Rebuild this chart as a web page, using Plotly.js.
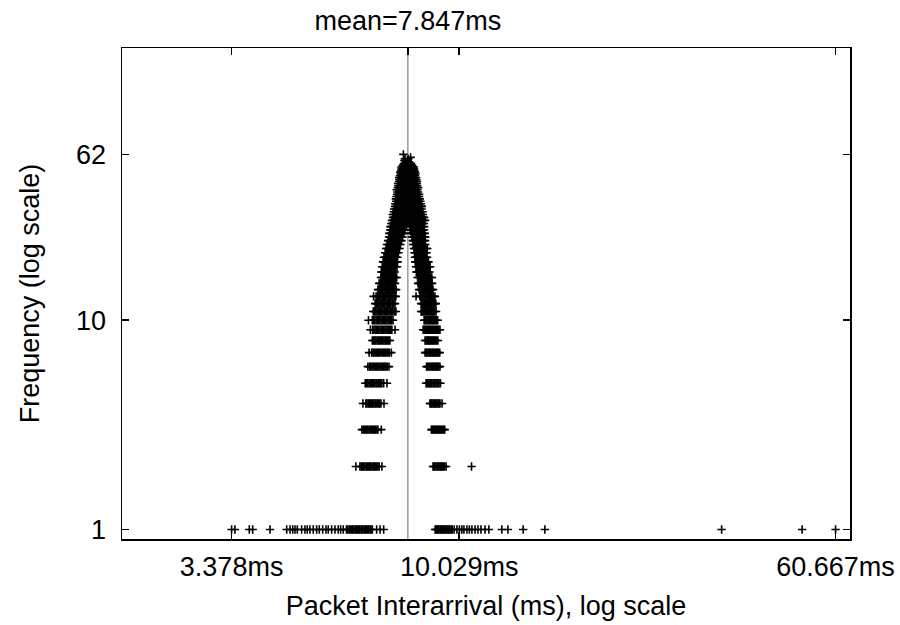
<!DOCTYPE html>
<html>
<head>
<meta charset="utf-8">
<script src="https://cdn.plot.ly/plotly-3.0.1.min.js"></script>
<style>html,body{margin:0;padding:0;background:#fff;}#chart{width:900px;height:625px;}</style>
</head>
<body>
<div id="chart"></div>
<script>
// Packet interarrival histogram: each frequency level lists the interarrival values (ms) seen that many times
const meanMs = 7.847;
const xTickValues = [3.378, 10.029, 60.667];
const xTickLabels = ['3.378ms', '10.029ms', '60.667ms'];
const yTickValues = [1, 10, 62];
const yTickLabels = ['1', '10', '62'];

const frequencyLevels = [1,2,3,4,5,6,7,8,9,10,11,12,13,14,15,16,17,18,19,20,
  21,22,23,24,25,26,27,28,29,30,31,32,33,34,35,36,37,38,39,40,
  41,42,43,44,45,46,47,48,49,50,51,52,53,54,55,56,57,58,59,60,62];

const interarrivalMs = [
  // 1
  [3.378,3.432,3.676,3.736,4.059,4.396,4.466,4.524,4.574,4.625,4.722,4.797,4.850,4.913,4.991,5.073,5.137,5.221,5.305,5.363,5.450,5.537,5.625,5.690,5.761,
   5.85,5.89,5.93,5.96,6.00,6.03,6.06,6.10,6.13,6.16,6.20,6.23,6.27,6.30,6.33,6.37,6.40,6.44,6.47,6.51,6.55,6.58,6.62,6.76,6.87,6.99,
   8.94,8.98,9.02,9.06,9.10,9.15,9.19,9.23,9.28,9.32,9.37,9.41,9.46,9.51,9.55,9.60,9.65,9.70,9.79,9.92,10.04,10.16,10.26,10.41,10.53,10.66,10.82,10.97,11.13,11.35,11.56,12.30,12.66,13.62,15.11,35.18,51.70,60.667],
  // 2
  [6.12,6.24,6.28,6.31,6.35,6.39,6.43,6.46,6.50,6.54,6.57,6.61,6.65,6.68,6.72,6.76,6.80,6.84,6.93,
   8.85,8.89,8.93,8.98,9.02,9.07,9.11,9.16,9.20,9.25,9.30,9.35,9.42,10.64],
  // 3
  [6.30,6.34,6.37,6.41,6.45,6.48,6.52,6.55,6.59,6.62,6.66,6.70,6.73,6.77,6.80,6.91,
   8.78,8.82,8.86,8.90,8.95,8.99,9.03,9.08,9.12,9.16,9.21,9.26,9.31,9.36],
  // 4
  [6.33,6.42,6.45,6.49,6.53,6.56,6.60,6.63,6.67,6.71,6.74,6.78,6.82,6.86,6.90,7.00,
   8.72,8.76,8.80,8.85,8.89,8.93,8.97,9.02,9.06,9.11,9.15,9.24],
  // 5
  [6.40,6.44,6.48,6.52,6.55,6.59,6.62,6.66,6.70,6.74,6.77,6.81,6.85,6.89,6.93,6.99,7.10,
   8.56,8.60,8.64,8.68,8.72,8.76,8.80,8.85,8.89,8.93,8.98,9.02,9.06,9.11,9.17],
  // 6
  [6.48,6.53,6.57,6.61,6.64,6.68,6.72,6.76,6.80,6.83,6.87,6.91,6.95,6.99,7.03,7.07,7.11,7.17,
   8.58,8.62,8.66,8.71,8.75,8.79,8.84,8.88,8.92,8.97,9.01,9.05,9.10,9.15],
  // 7
  [6.52,6.60,6.64,6.67,6.71,6.75,6.79,6.82,6.86,6.90,6.94,6.98,7.02,7.06,7.10,7.14,7.18,7.25,
   8.52,8.56,8.60,8.64,8.69,8.73,8.77,8.82,8.86,8.90,8.95,8.99,9.04,9.08,9.14],
  // 8
  [6.62,6.66,6.69,6.73,6.77,6.81,6.84,6.88,6.92,6.96,7.00,7.04,7.08,7.12,7.16,7.20,
   8.52,8.56,8.61,8.65,8.69,8.73,8.78,8.82,8.86,8.91,8.95,9.00,9.06],
  // 9
  [6.56,6.63,6.67,6.71,6.75,6.79,6.83,6.87,6.91,6.95,6.99,7.03,7.07,7.11,7.15,7.19,7.23,7.27,7.38,
   8.44,8.48,8.52,8.57,8.61,8.65,8.70,8.74,8.78,8.83,8.87,8.92,8.96,9.01,9.05,9.10,9.15],
  // 10
  [6.50,6.62,6.66,6.70,6.74,6.78,6.82,6.86,6.90,6.94,6.98,7.02,7.06,7.10,7.14,7.18,7.22,7.26,7.31,
   8.48,8.52,8.56,8.60,8.65,8.69,8.73,8.78,8.82,8.86,8.91,8.95,9.00,9.05],
  // 11
  [6.65,6.69,6.73,6.77,6.81,6.85,6.89,6.93,6.97,7.01,7.05,7.09,7.13,7.17,7.21,7.25,7.30,7.35,7.41,
   8.36,8.40,8.44,8.48,8.53,8.57,8.61,8.65,8.70,8.74,8.78,8.83,8.87,8.92,8.98],
  // 12
  [6.71,6.75,6.79,6.83,6.87,6.91,6.95,6.99,7.03,7.07,7.11,7.15,7.19,7.23,7.28,7.33,7.38,
   8.36,8.40,8.45,8.49,8.53,8.58,8.62,8.66,8.71,8.75,8.79,8.84,8.88,8.93,8.97],
  // 13
  [6.66,6.74,6.78,6.82,6.86,6.90,6.94,6.98,7.02,7.06,7.10,7.14,7.18,7.22,7.27,7.31,7.36,7.41,
   8.16,8.31,8.35,8.39,8.43,8.47,8.52,8.56,8.60,8.65,8.69,8.73,8.78,8.82,8.87,8.93],
  // 14
  [6.80,6.84,6.88,6.92,6.96,7.00,7.04,7.08,7.12,7.16,7.20,7.24,7.28,7.33,7.37,7.42,
   8.28,8.32,8.36,8.40,8.44,8.49,8.53,8.57,8.62,8.66,8.70,8.75,8.80,8.85],
  // 15
  [6.84,6.88,6.92,6.96,7.00,7.04,7.08,7.12,7.16,7.20,7.24,7.29,7.33,7.38,
   8.24,8.28,8.32,8.36,8.41,8.45,8.49,8.54,8.58,8.62,8.67,8.71,8.76,8.81],
  // 16
  [6.90,6.94,6.98,7.02,7.06,7.10,7.14,7.18,7.22,7.26,7.30,7.35,7.40,7.44,
   8.22,8.26,8.31,8.35,8.39,8.43,8.48,8.52,8.56,8.61,8.65,8.70,8.75,8.80],
  // 17
  [6.91,6.95,6.99,7.03,7.07,7.11,7.15,7.19,7.24,7.28,7.32,7.37,
   8.17,8.21,8.25,8.29,8.33,8.38,8.42,8.46,8.51,8.55,8.60,8.64,8.70],
  // 18
  [6.94,6.98,7.02,7.06,7.10,7.14,7.18,7.22,7.27,7.31,7.35,7.40,7.45,
   8.16,8.20,8.24,8.28,8.33,8.37,8.41,8.46,8.50,8.54,8.59,8.63,8.68,8.73],
  // 19
  [6.97,7.01,7.05,7.09,7.13,7.17,7.21,7.25,7.30,7.34,7.38,7.43,7.47,
   8.13,8.17,8.21,8.25,8.30,8.34,8.38,8.43,8.47,8.51,8.56,8.60,8.66],
  // 20
  [7.00,7.04,7.08,7.12,7.16,7.20,7.24,7.28,7.33,7.37,7.41,7.46,
   8.12,8.16,8.20,8.24,8.29,8.33,8.37,8.42,8.46,8.50,8.55,8.60],
  // 21
  [7.04,7.08,7.12,7.16,7.20,7.24,7.28,7.32,7.37,7.41,7.45,7.50,
   8.10,8.14,8.18,8.22,8.27,8.31,8.35,8.40,8.44,8.48,8.53,8.58],
  // 22
  [7.07,7.11,7.15,7.19,7.23,7.27,7.31,7.36,7.40,7.44,7.49,7.54,
   8.08,8.12,8.16,8.20,8.25,8.29,8.33,8.38,8.42,8.46,8.51,8.56,8.61],
  // 23
  [7.10,7.14,7.18,7.22,7.26,7.30,7.35,7.39,7.43,7.48,7.52,7.57,
   8.05,8.09,8.13,8.17,8.22,8.26,8.30,8.35,8.39,8.43,8.48,8.53],
  // 24
  [7.14,7.18,7.22,7.26,7.30,7.34,7.39,7.43,7.47,7.52,7.56,7.61,
   8.04,8.08,8.12,8.16,8.21,8.25,8.29,8.34,8.38,8.42,8.47,8.52],
  // 25
  [7.17,7.21,7.25,7.29,7.33,7.38,7.42,7.46,7.51,7.55,7.60,7.65,
   8.00,8.04,8.08,8.13,8.17,8.21,8.26,8.30,8.34,8.39,8.43,8.48,8.53],
  // 26
  [7.18,7.22,7.26,7.30,7.35,7.39,7.43,7.48,7.52,7.57,7.61,7.66,7.70,
   7.97,8.01,8.05,8.10,8.14,8.18,8.23,8.27,8.31,8.36,8.40,8.45,8.51],
  // 27
  [7.21,7.25,7.29,7.33,7.38,7.42,7.46,7.51,7.55,7.60,7.64,7.69,7.74,
   7.93,7.97,8.01,8.06,8.10,8.14,8.19,8.23,8.28,8.32,8.37,8.42,8.48],
  // 28
  [7.22,7.26,7.30,7.35,7.39,7.43,7.48,7.52,7.56,7.61,7.65,7.70,7.74,7.78,
   7.94,7.98,8.02,8.07,8.11,8.15,8.20,8.24,8.29,8.33,8.38,8.43,8.48],
  // 29
  [7.25,7.29,7.33,7.38,7.42,7.46,7.51,7.55,7.60,7.64,7.69,7.73,7.78,7.82,7.87,7.91,7.96,8.00,8.05,8.09,8.14,8.18,8.23,8.28,8.32,8.37,8.42,8.47],
  // 30
  [7.27,7.33,7.38,7.43,7.49,7.54,7.60,7.65,7.71,7.76,7.82,7.87,7.93,7.99,8.04,8.10,8.16,8.22,8.28,8.34,8.40,8.46,8.52],
  // 31
  [7.31,7.36,7.41,7.47,7.52,7.58,7.63,7.69,7.74,7.80,7.85,7.91,7.96,8.02,8.08,8.13,8.19,8.25,8.31,8.37,8.43,8.48],
  // 32
  [7.30,7.35,7.40,7.46,7.51,7.57,7.62,7.68,7.73,7.79,7.84,7.90,7.95,8.01,8.06,8.12,8.18,8.24,8.30,8.36,8.43],
  // 33
  [7.34,7.39,7.45,7.50,7.56,7.61,7.67,7.72,7.78,7.83,7.89,7.94,8.00,8.05,8.11,8.17,8.23,8.29,8.35,8.42],
  // 34
  [7.35,7.41,7.46,7.52,7.57,7.63,7.68,7.74,7.79,7.85,7.90,7.96,8.01,8.07,8.13,8.19,8.25,8.31,8.38],
  // 35
  [7.38,7.43,7.49,7.54,7.60,7.65,7.71,7.76,7.82,7.87,7.93,7.98,8.04,8.10,8.16,8.22,8.28,8.35,8.39],
  // 36
  [7.39,7.45,7.50,7.56,7.61,7.67,7.72,7.78,7.83,7.89,7.94,8.00,8.05,8.11,8.17,8.23,8.29,8.35],
  // 37
  [7.42,7.47,7.53,7.58,7.64,7.69,7.75,7.80,7.86,7.91,7.97,8.02,8.08,8.14,8.20,8.26,8.33],
  // 38
  [7.41,7.46,7.52,7.57,7.63,7.68,7.74,7.79,7.85,7.90,7.96,8.01,8.07,8.13,8.19,8.25,8.31],
  // 39
  [7.43,7.49,7.54,7.60,7.65,7.71,7.76,7.82,7.87,7.93,7.98,8.04,8.10,8.16,8.22,8.28],
  // 40
  [7.45,7.50,7.56,7.61,7.67,7.72,7.78,7.83,7.89,7.94,8.00,8.05,8.11,8.17,8.23,8.28],
  // 41
  [7.46,7.53,7.60,7.67,7.74,7.81,7.88,7.95,8.02,8.09,8.16,8.24],
  // 42
  [7.44,7.51,7.58,7.65,7.72,7.79,7.86,7.93,8.00,8.07,8.14,8.21],
  // 43
  [7.48,7.55,7.62,7.69,7.76,7.83,7.90,7.97,8.04,8.11,8.18,8.24],
  // 44
  [7.50,7.57,7.64,7.71,7.78,7.85,7.92,7.99,8.06,8.13,8.20],
  // 45
  [7.49,7.56,7.63,7.70,7.77,7.84,7.91,7.98,8.05,8.12,8.19],
  // 46
  [7.52,7.59,7.66,7.73,7.80,7.87,7.94,8.01,8.08,8.15,8.20],
  // 47
  [7.54,7.61,7.68,7.75,7.82,7.89,7.96,8.03,8.10,8.17],
  // 48
  [7.53,7.60,7.67,7.74,7.81,7.88,7.95,8.02,8.09,8.16],
  // 49
  [7.56,7.63,7.70,7.77,7.84,7.91,7.98,8.05,8.12],
  // 50
  [7.58,7.65,7.72,7.79,7.86,7.93,8.00,8.07,8.14],
  // 51
  [7.57,7.64,7.71,7.78,7.85,7.92,7.99,8.06,8.12],
  // 52
  [7.60,7.67,7.74,7.81,7.88,7.95,8.02,8.09],
  // 53
  [7.62,7.69,7.76,7.83,7.90,7.97,8.04,8.08],
  // 54
  [7.61,7.68,7.75,7.82,7.89,7.96,8.03,8.07],
  // 55
  [7.66,7.75,7.84,7.93,8.01],
  // 56
  [7.70,7.86,7.97],
  // 57
  [7.76,7.90],
  // 58
  [7.72,7.84],
  // 59
  [7.74,7.86],
  // 60
  [7.95],
  // 62
  [7.68]
];

const xs = [], ys = [];
frequencyLevels.forEach((f, i) => {
  interarrivalMs[i].forEach(v => { xs.push(v); ys.push(f); });
});

const xRange = [Math.log10(2), Math.log10(65)];
const yRange = [Math.log10(0.9), Math.log10(200)];
const font = {family: 'Liberation Sans, Arial, sans-serif', size: 27, color: '#000'};
const axisCommon = {
  ticks: 'inside', ticklen: 7, tickwidth: 1.5, tickcolor: '#000',
  showgrid: false, zeroline: false, tickfont: font
};

// top axis: mirrored x ticks plus the mean marker with its label
const topTickValues = xTickValues.concat([meanMs]);
const topTickLabels = xTickValues.map(() => '').concat(['mean=' + meanMs.toFixed(3) + 'ms']);

const traces = [
  {
    type: 'scatter', mode: 'markers', x: xs, y: ys, xaxis: 'x', yaxis: 'y',
    marker: {symbol: 'cross-thin', size: 6, color: '#000', line: {color: '#000', width: 1.6}},
    hoverinfo: 'skip', showlegend: false
  },
  {
    type: 'scatter', mode: 'markers', x: [meanMs], y: [null], xaxis: 'x2', yaxis: 'y2',
    marker: {opacity: 0}, hoverinfo: 'skip', showlegend: false
  }
];

const layout = {
  width: 900, height: 625,
  margin: {l: 122, r: 50, t: 48, b: 86},
  paper_bgcolor: '#fff', plot_bgcolor: '#fff',
  font: font,
  showlegend: false,
  xaxis: Object.assign({}, axisCommon, {
    type: 'log', range: xRange, tickvals: xTickValues, ticktext: xTickLabels,
    showline: true, linecolor: '#000', linewidth: 1.5, mirror: true,
    ticklabelstandoff: 3,
    title: {text: 'Packet Interarrival (ms), log scale', font: font, standoff: 15}
  }),
  xaxis2: Object.assign({}, axisCommon, {
    type: 'log', range: xRange, overlaying: 'x', side: 'top', anchor: 'y2',
    tickvals: topTickValues, ticktext: topTickLabels,
    showline: false, ticklabelstandoff: 12
  }),
  yaxis: Object.assign({}, axisCommon, {
    type: 'log', range: yRange, tickvals: yTickValues, ticktext: yTickLabels,
    showline: true, linecolor: '#000', linewidth: 1.5, mirror: true,
    ticklabelstandoff: 9,
    title: {text: 'Frequency (log scale)', font: font, standoff: 28}
  }),
  yaxis2: Object.assign({}, axisCommon, {
    type: 'log', range: yRange, overlaying: 'y', side: 'right', anchor: 'x2',
    tickvals: yTickValues, showticklabels: false, showline: false
  }),
  shapes: [{
    type: 'line', xref: 'x', yref: 'paper', x0: meanMs, x1: meanMs, y0: 0, y1: 1,
    line: {color: '#808080', width: 1.2}, layer: 'below'
  }]
};

Plotly.newPlot('chart', traces, layout, {displayModeBar: false, staticPlot: true});
</script>
</body>
</html>
